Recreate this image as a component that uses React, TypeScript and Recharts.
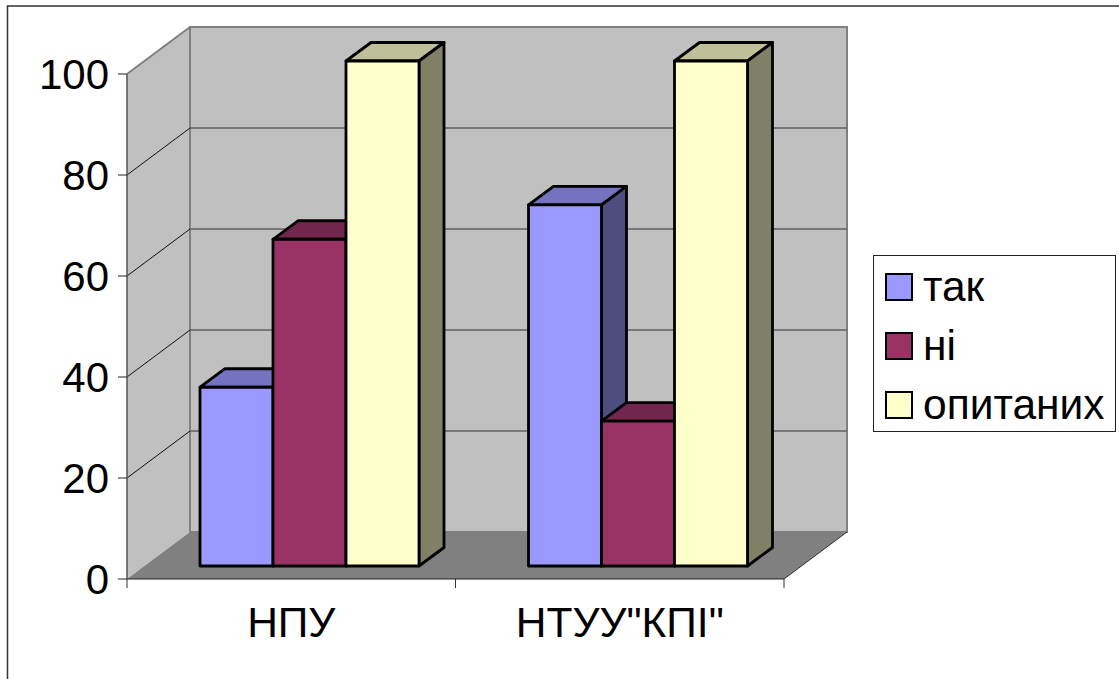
import { Bar, BarChart, Legend, XAxis, YAxis, usePlotArea } from "recharts";

const categories = ["НПУ", 'НТУУ"КПІ"'];
const yesValues = [35.4, 71.5];
const noValues = [64.7, 28.7];
const surveyedValues = [100, 100];
const yTicks = [0, 20, 40, 60, 80, 100];

const data = categories.map((name, i) => ({
  name,
  yes: yesValues[i],
  no: noValues[i],
  surveyed: surveyedValues[i],
}));

const FONT = '"Liberation Sans", Arial, sans-serif';

// 3D look: how far the back wall and the bars are pushed from the front plane
const WALL_DX = 63;
const WALL_DY = -47;
const BAR_DX = 18;
const BAR_DY = -13;
const DEPTH_DX = 25;
const DEPTH_DY = -18.5;

function Walls() {
  const plot = usePlotArea();
  if (!plot) return null;
  const left = plot.x;
  const right = plot.x + plot.width;
  const bottom = plot.y + plot.height;
  const yOf = (v: number) => bottom - (v / 100) * plot.height;
  const step = plot.width / categories.length;
  return (
    <g>
      <path d="M7.5 679V6H1119" fill="none" stroke="#333" strokeWidth={1.5} />
      <polygon
        points={`${left},${yOf(100)} ${left + WALL_DX},${yOf(100) + WALL_DY} ${left + WALL_DX},${bottom + WALL_DY} ${left},${bottom}`}
        fill="#c0c0c0"
      />
      <rect
        x={left + WALL_DX}
        y={yOf(100) + WALL_DY}
        width={plot.width}
        height={plot.height}
        fill="#c0c0c0"
        stroke="#808080"
        strokeWidth={2}
      />
      <line
        x1={left}
        y1={yOf(100)}
        x2={left + WALL_DX}
        y2={yOf(100) + WALL_DY}
        stroke="#808080"
        strokeWidth={2}
      />
      <polygon
        points={`${left},${bottom} ${left + WALL_DX},${bottom + WALL_DY} ${right + WALL_DX},${bottom + WALL_DY} ${right},${bottom}`}
        fill="#808080"
      />
      <line x1={right} y1={bottom} x2={right + WALL_DX} y2={bottom + WALL_DY} stroke="#333" />
      {yTicks
        .filter((t) => t > 0 && t < 100)
        .map((t) => (
          <g key={t}>
            <line
              x1={left}
              y1={yOf(t)}
              x2={left + WALL_DX}
              y2={yOf(t) + WALL_DY}
              stroke="#111"
              strokeWidth={1}
            />
            <line
              x1={left + WALL_DX}
              y1={yOf(t) + WALL_DY}
              x2={right + WALL_DX}
              y2={yOf(t) + WALL_DY}
              stroke="#606060"
              strokeWidth={1.5}
            />
          </g>
        ))}
      {[0, 1, 2].map((i) => (
        <line
          key={i}
          x1={left + i * step}
          y1={bottom}
          x2={left + i * step}
          y2={bottom + 9}
          stroke="#333"
        />
      ))}
    </g>
  );
}

function Box(props: any) {
  const { x, y, width, height, fill, topFill, sideFill } = props;
  const fx = x + BAR_DX;
  const fy = y + BAR_DY;
  const r = fx + width;
  const b = fy + height;
  return (
    <g stroke="#000" strokeWidth={2.8} strokeLinejoin="round">
      <polygon
        points={`${fx},${fy} ${fx + DEPTH_DX},${fy + DEPTH_DY} ${r + DEPTH_DX},${fy + DEPTH_DY} ${r},${fy}`}
        fill={topFill}
      />
      <polygon
        points={`${r},${fy} ${r + DEPTH_DX},${fy + DEPTH_DY} ${r + DEPTH_DX},${b + DEPTH_DY} ${r},${b}`}
        fill={sideFill}
      />
      <rect x={fx} y={fy} width={width} height={height} fill={fill} />
    </g>
  );
}

function LegendBox({ payload }: any) {
  return (
    <div
      style={{
        boxSizing: "border-box",
        width: 243,
        height: 177,
        border: "1px solid #222",
        background: "#fff",
        position: "relative",
        fontFamily: FONT,
        fontSize: 42.5,
        color: "#000",
      }}
    >
      {(payload || []).map((item: any, i: number) => (
        <div
          key={item.value}
          style={{
            position: "absolute",
            left: 11,
            top: 17 + i * 59,
            height: 27,
            display: "flex",
            alignItems: "center",
            whiteSpace: "nowrap",
          }}
        >
          <span
            style={{
              boxSizing: "border-box",
              width: 28,
              height: 28,
              border: "2.5px solid #000",
              background: item.color,
              marginRight: 10,
            }}
          />
          {item.value}
        </div>
      ))}
    </div>
  );
}

export default function App() {
  return (
    <div style={{ position: "absolute", left: 0, top: 0, background: "#fff" }}>
      <BarChart
        width={1119}
        height={679}
        data={data}
        barGap={0}
        barCategoryGap={55}
        margin={{ top: 74, right: 335, bottom: 40, left: 0 }}
      >
        <Walls />
        <XAxis
          dataKey="name"
          height={60}
          tickLine={false}
          axisLine={{ stroke: "#222" }}
          tickMargin={22}
          tick={{ fontSize: 42.5, fontFamily: FONT, fill: "#000" }}
        />
        <YAxis
          width={127}
          domain={[0, 100]}
          ticks={yTicks}
          interval={0}
          tickSize={9}
          tickMargin={9}
          axisLine={{ stroke: "#555", strokeWidth: 1.5 }}
          tickLine={{ stroke: "#222" }}
          tick={{ fontSize: 42, fontFamily: FONT, fill: "#000" }}
        />
        <Legend
          layout="vertical"
          align="center"
          verticalAlign="middle"
          itemSorter={null}
          wrapperStyle={{ left: 873, top: 255, width: 243, height: 177 }}
          content={<LegendBox />}
        />
        <Bar
          dataKey="yes"
          name="так"
          fill="#9999ff"
          isAnimationActive={false}
          shape={<Box topFill="#7373bf" sideFill="#4d4d80" />}
        />
        <Bar
          dataKey="no"
          name="ні"
          fill="#993366"
          isAnimationActive={false}
          shape={<Box topFill="#73264d" sideFill="#4d1a33" />}
        />
        <Bar
          dataKey="surveyed"
          name="опитаних"
          fill="#ffffcc"
          isAnimationActive={false}
          shape={<Box topFill="#bfbf99" sideFill="#808066" />}
        />
      </BarChart>
    </div>
  );
}
